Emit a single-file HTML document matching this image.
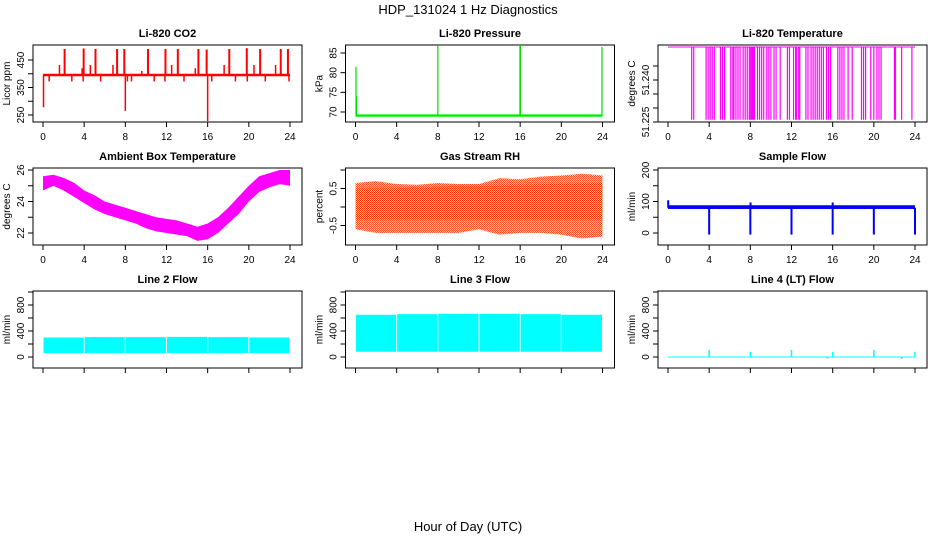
<!DOCTYPE html>
<html><head><meta charset="utf-8"><style>
html,body{margin:0;padding:0;background:#fff}
svg{display:block;font-family:"Liberation Sans",sans-serif}
.t{font-weight:bold;font-size:11px}
.a{font-size:10px}
</style></head><body>
<svg id="c" width="936" height="540" viewBox="0 0 936 540">
<defs>
<pattern id="rhp" width="2" height="2" patternUnits="userSpaceOnUse"><rect width="2" height="2" fill="#ffd700"/><rect width="1" height="1" fill="#ff3000"/><rect x="1" y="1" width="1" height="1" fill="#ff3000"/></pattern>
</defs>
<text x="468" y="14" text-anchor="middle" font-size="13">HDP_131024  1 Hz Diagnostics</text>
<text x="468" y="531" text-anchor="middle" font-size="13">Hour of Day (UTC)</text>
</svg>
<script>
// ---- data arrays ----
const xTicks=[0,4,8,12,16,20,24];
// CO2
const co2Base=[391,400];
const co2SpikeHours=[2.1,3.95,5.1,7.2,7.9,10.2,11.9,13.1,15.1,15.9,18.1,19.8,21.1,23.1,23.8,1.6,3.8,4.6,6.8,9.6,12.5,14.8,17.6,20.5,22.6,0.6,2.8,3.9,5.6,8.2,8.6,10.8,11.85,13.7,16.4,18.7,19.85,21.6,0.05,8.0,16.0,23.9];
const co2SpikeVals=[490,492,490,490,490,490,490,490,490,488,490,493,490,490,490,432,420,432,432,410,432,420,432,432,432,372,372,372,372,372,372,372,372,372,372,372,372,372,278,265,228,372];
// Pressure
const presBase=69.1;
const presSpikeHours=[0.05,0.1,8.0,16.0,15.98,16.02,23.95];
const presSpikeVals=[81.5,74,87,87,87,87,86.5];
// Li-820 temperature
const ltTop=51.2518, ltLow=51.2258;
const ltDropHours=[2.3,2.5,3.7,3.9,4.1,4.3,4.5,5.1,5.3,5.5,6.1,6.3,6.4,6.6,6.8,7.0,7.3,7.5,7.7,7.9,8.0,8.1,8.2,8.3,8.4,8.7,8.9,9.1,9.3,9.6,9.8,10.0,10.3,10.5,10.9,11.6,11.8,12.2,12.4,12.5,12.7,12.8,13.4,13.6,13.9,14.1,14.3,14.5,14.7,14.9,15.1,15.4,15.6,15.8,16.5,16.7,16.9,17.1,17.5,17.9,18.8,19.0,19.2,19.7,20.0,20.3,20.5,20.7,22.0,22.1,22.7,23.7];
// Ambient box temperature (hourly envelope)
const ambHours=[0,1,2,3,4,5,6,7,8,9,10,11,12,13,14,15,16,17,18,19,20,21,22,23,24];
const ambMin=[24.7,25.0,24.7,24.3,23.9,23.5,23.2,23.0,22.8,22.6,22.3,22.1,22.0,21.9,21.8,21.5,21.6,22.0,22.6,23.2,24.0,24.6,24.9,25.1,25.0];
const ambMax=[25.6,25.7,25.5,25.2,24.7,24.4,24.0,23.8,23.6,23.4,23.2,23.0,22.9,22.8,22.6,22.4,22.6,23.0,23.6,24.3,25.0,25.6,25.8,26.0,26.0];
// Gas stream RH envelope
const rhHours=[0,2,4,6,8,10,12,14,16,18,20,22,24];
const rhMin=[-0.6,-0.7,-0.7,-0.7,-0.7,-0.7,-0.6,-0.75,-0.7,-0.7,-0.75,-0.85,-0.8];
const rhMax=[0.65,0.7,0.62,0.6,0.65,0.62,0.62,0.78,0.75,0.82,0.85,0.9,0.85];
const rhCoreLo=-0.35, rhCoreHi=0.5;
// Sample flow
const sfBase=[76,88];
const sfDipHours=[4,8,12,16,20,24,8.02,16.0,0.02];
const sfDipVals=[-5,-5,-5,-5,-5,-5,97,97,104];
// Line flows
const cycleHours=[0,4,8,12,16,20,24];
const l2Lo=[60,60,60,60,60,60], l2Hi=[300,305,305,310,305,300];
const l3Lo=[80,80,80,80,80,80], l3Hi=[650,660,665,665,660,650];
const l4Base=0;
const l4SpikeHours=[4,12,20,8,16,24,15.5,22.7];
const l4SpikeVals=[110,110,110,80,80,80,-25,-30];

// ---- layout ----
const svg=document.getElementById('c');
const NS='http://www.w3.org/2000/svg';
function mk(tag,at,parent){const e=document.createElementNS(NS,tag);for(const k in at)e.setAttribute(k,at[k]);(parent||svg).appendChild(e);return e;}
function panel(col,row,title,ytitle,ymin,ymax,yTicks,yLabels,name){
  const L=33+312.5*col,R=302+312.5*col,T=45+123*row,B=122+123*row;
  const g=mk('g',{});
  
  
  const x=h=>43+312.5*col+h*(247/24);
  const y=v=>ymin.py+(v-ymin.v)*(ymax.py-ymin.py)/(ymax.v-ymin.v);
  const t=mk('text',{x:(L+R)/2,y:T-8,'text-anchor':'middle',class:'t'},g);t.textContent=title;
  
  const box=mk('rect',{x:L,y:T,width:R-L,height:B-T,fill:'none',stroke:'#000','stroke-width':1},g);
  
  const plot=mk('g',{},g);
  
  const xa=mk('g',{stroke:'#000'},g);
  
  mk('line',{x1:x(0),x2:x(24),y1:B,y2:B},xa);
  xTicks.forEach(h=>{mk('line',{x1:x(h),x2:x(h),y1:B,y2:B+5},xa);
    if(row<2){const l=mk('text',{x:x(h),y:B+18,'text-anchor':'middle',class:'a',stroke:'none'},xa);l.textContent=h;}});
  const ya=mk('g',{stroke:'#000'},g);
  
  mk('line',{x1:L,x2:L,y1:y(yTicks[0]),y2:y(yTicks[yTicks.length-1])},ya);
  yTicks.forEach(v=>mk('line',{x1:L-5,x2:L,y1:y(v),y2:y(v)},ya));
  yLabels.forEach(v=>{const l=mk('text',{x:0,y:0,'text-anchor':'middle',class:'a',stroke:'none',transform:`translate(${L-9},${y(v)}) rotate(-90)`},ya);l.textContent=v;});
  const yt=mk('text',{x:0,y:0,'text-anchor':'middle',class:'a',transform:`translate(${L-23},${(T+B)/2}) rotate(-90)`},g);
  yt.textContent=ytitle;
  return {x,y,plot,L,R,T,B};
}
function vline(p,h,v1,v2,col,w){const e=mk('line',{x1:p.x(h),x2:p.x(h),y1:p.y(v1),y2:p.y(v2),stroke:col,'stroke-width':w||1},p.plot);
  return e;}
function band(p,hs,lo,hi,fill,nm){let d='M'+hs.map((h,i)=>p.x(h)+','+p.y(hi[i])).join('L')+'L'+hs.map((h,i)=>p.x(h)+','+p.y(lo[i])).reverse().join('L')+'Z';
  const e=mk('path',{d,fill,stroke:'none'},p.plot);return e;}

let p=panel(0,0,'Li-820 CO2','Licor ppm',{v:250,py:115},{v:450,py:60},[250,300,350,400,450],[250,350,450],'co2');
band(p,[0,24],[co2Base[0],co2Base[0]],[co2Base[1],co2Base[1]],'#ff0000','co2-baseline');
co2SpikeHours.forEach((h,i)=>vline(p,h,395,co2SpikeVals[i],'#ff0000',i<15?2:1.5));
p=panel(1,0,'Li-820 Pressure','kPa',{v:70,py:112},{v:85,py:53},[70,75,80,85],[70,75,80,85],'pressure');
band(p,[0,24],[presBase-0.3,presBase-0.3],[presBase+0.3,presBase+0.3],'#00ee00','pressure-baseline');
presSpikeHours.forEach((h,i)=>vline(p,h,presBase,presSpikeVals[i],'#00dd00',1.2));
p=panel(2,0,'Li-820 Temperature','degrees C',{v:51.225,py:122},{v:51.245,py:66},[51.225,51.23,51.235,51.24,51.245],['51.225','51.240'],'li820-temperature');
{const e=mk('line',{x1:p.x(0),x2:p.x(24),y1:p.y(ltTop),y2:p.y(ltTop),stroke:'#ff00ff'},p.plot);}
ltDropHours.forEach(h=>vline(p,h,ltTop,ltLow,'#ff00ff',1.2));
p=panel(0,1,'Ambient Box Temperature','degrees C',{v:22,py:233},{v:26,py:170},[22,23,24,25,26],[22,24,26],'ambient-temperature');
band(p,ambHours,ambMin,ambMax,'#ff00ff','ambient-band');
p=panel(1,1,'Gas Stream RH','percent',{v:0,py:207},{v:1,py:170},[-0.5,0,0.5,1],['-0.5','0.5'],'gas-stream-rh');
band(p,rhHours,rhMin,rhMax,'url(#rhp)','rh-envelope').setAttribute('opacity','0.85');
band(p,[0,24],[rhCoreLo,rhCoreLo],[rhCoreHi,rhCoreHi+0.15],'url(#rhp)','rh-core');
p=panel(2,1,'Sample Flow','ml/min',{v:0,py:233},{v:200,py:170},[0,50,100,150,200],[0,100,200],'sample-flow');
band(p,[0,24],[sfBase[0],sfBase[0]],[sfBase[1],sfBase[1]],'#0000ff','sample-flow-band');
sfDipHours.forEach((h,i)=>vline(p,h,80,sfDipVals[i],'#0000ff',2));
function cycles(p,lo,hi,nm){for(let i=0;i<cycleHours.length-1;i++){
  band(p,[cycleHours[i]+0.05,cycleHours[i+1]-0.05],[lo[i],lo[i]],[hi[i],hi[i]],'#00ffff',nm+'-cycle');}}
p=panel(0,2,'Line 2 Flow','ml/min',{v:0,py:357},{v:800,py:305},[0,200,400,600,800,1000],[0,400,800],'line2-flow');
cycles(p,l2Lo,l2Hi,'line2');
p=panel(1,2,'Line 3 Flow','ml/min',{v:0,py:357},{v:800,py:305},[0,200,400,600,800,1000],[0,400,800],'line3-flow');
cycles(p,l3Lo,l3Hi,'line3');
p=panel(2,2,'Line 4 (LT) Flow','ml/min',{v:0,py:357},{v:800,py:305},[0,200,400,600,800,1000],[0,400,800],'line4-flow');
{const e=mk('line',{x1:p.x(0),x2:p.x(24),y1:p.y(l4Base),y2:p.y(l4Base),stroke:'#00ffff'},p.plot);}
l4SpikeHours.forEach((h,i)=>vline(p,h,l4Base,l4SpikeVals[i],'#00ffff',1.5));
</script>
</body></html>
